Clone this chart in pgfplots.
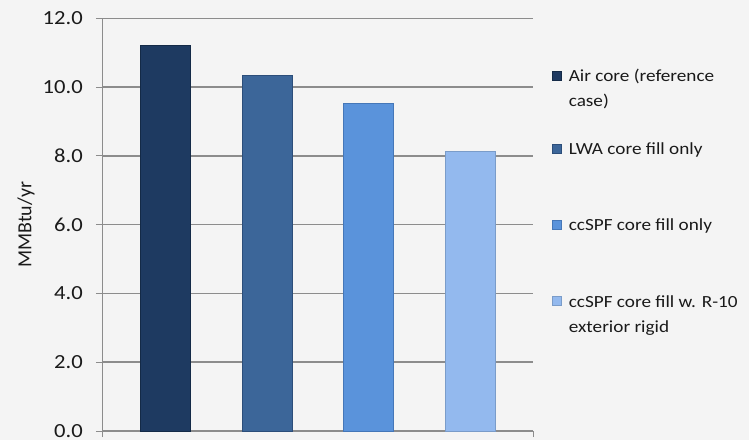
\documentclass[border=0pt]{standalone}
\usepackage{graphicx}
\usepackage{pgfplots}
\pgfplotsset{compat=1.18}
\usepackage{fontspec}
\setmainfont{Carlito}
\definecolor{bg}{HTML}{F4F4F4}
\definecolor{gridc}{HTML}{8C8C8C}
\definecolor{txt}{HTML}{1A1A1A}
\definecolor{cA}{HTML}{1E3A61}
\definecolor{cAd}{HTML}{142A47}
\definecolor{cB}{HTML}{3C6699}
\definecolor{cBd}{HTML}{2C4E7A}
\definecolor{cC}{HTML}{5A93DB}
\definecolor{cCd}{HTML}{4577B8}
\definecolor{cD}{HTML}{93B9EE}
\definecolor{cDd}{HTML}{7A9CC9}
\newcommand\hs[1]{\scalebox{1.13}[1]{#1}}
\pgfplotsset{
  base/.style={at={(102bp,9bp)}, anchor=south west,
    scale only axis, width=431bp, height=412.5bp},
  legax/.style={base, xmin=0, xmax=1, ymin=0, ymax=1, hide axis,
    legend cell align=left,
    legend image code/.code={\fill[##1] (0bp,1.5bp) rectangle (9bp,10.5bp);},
    legend style={at={(axis description cs:1,1)}, anchor=north west, xshift=19bp, yshift=-#1,
      draw=none, fill=none, inner sep=0pt, row sep=0pt, column sep=7bp,
      font=\fontsize{17bp}{25bp}\selectfont, text=txt,
      nodes={inner sep=0pt, anchor=base west, align=left}}},
}
\begin{document}
\begin{tikzpicture}
\fill[bg] (0,0) rectangle (749bp,440bp);
\begin{axis}[
  base,
  xmin=-0.63, xmax=3.62, ymin=0, ymax=12,
  axis x line*=bottom, axis y line*=left,
  axis line style={-, draw=gridc, line width=1bp},
  ytick={0,2,4,6,8,10,12},
  /pgf/number format/fixed, /pgf/number format/fixed zerofill, /pgf/number format/precision=1,
  /pgf/number format/assume math mode=true,
  yticklabel={\hs{\pgfmathprintnumber{\tick}}},
  yticklabel style={font=\fontsize{20bp}{24bp}\selectfont, text=txt, inner sep=0pt, xshift=-13bp},
  tick align=outside, major tick length=6bp,
  tick style={draw=gridc, line width=1bp},
  ymajorgrids, grid style={draw=gridc, line width=1.5bp},
  xtick=\empty,
  extra x ticks={-0.63,3.62}, extra x tick labels={},
  extra x tick style={grid=none, tick align=outside, major tick length=6bp},
  ylabel={MMBtu/yr},
  ylabel style={at={(axis description cs:-0.176,0.5)}, anchor=center, font=\fontsize{20bp}{24bp}\selectfont, text=txt},
  ybar, bar width=50bp, bar shift=0pt,
]
\addplot[fill=cA, draw=cAd, line width=0.8bp] coordinates {(0,11.23)};
\addplot[fill=cB, draw=cBd, line width=0.8bp] coordinates {(1,10.34)};
\addplot[fill=cC, draw=cCd, line width=0.8bp] coordinates {(2,9.54)};
\addplot[fill=cD, draw=cDd, line width=0.8bp] coordinates {(3,8.14)};
\end{axis}
\begin{axis}[legax=50.5bp]
\addlegendimage{fill=cA, draw=cAd, line width=0.6bp, yshift=25bp}
\addlegendentry{\hs{Air core (reference}\\\hs{case)}}
\end{axis}
\begin{axis}[legax=124.5bp]
\addlegendimage{fill=cB, draw=cBd, line width=0.6bp}
\addlegendentry{\hs{LWA core fill only}}
\end{axis}
\begin{axis}[legax=200.5bp]
\addlegendimage{fill=cC, draw=cCd, line width=0.6bp}
\addlegendentry{\hs{ccSPF core fill only}}
\end{axis}
\begin{axis}[legax=276.5bp]
\addlegendimage{fill=cD, draw=cDd, line width=0.6bp, yshift=25bp}
\addlegendentry{\hs{ccSPF core fill w. R-10}\\\hs{exterior rigid}}
\end{axis}
\pgfresetboundingbox
\useasboundingbox (0,0) rectangle (749bp,440bp);
\end{tikzpicture}
\end{document}
